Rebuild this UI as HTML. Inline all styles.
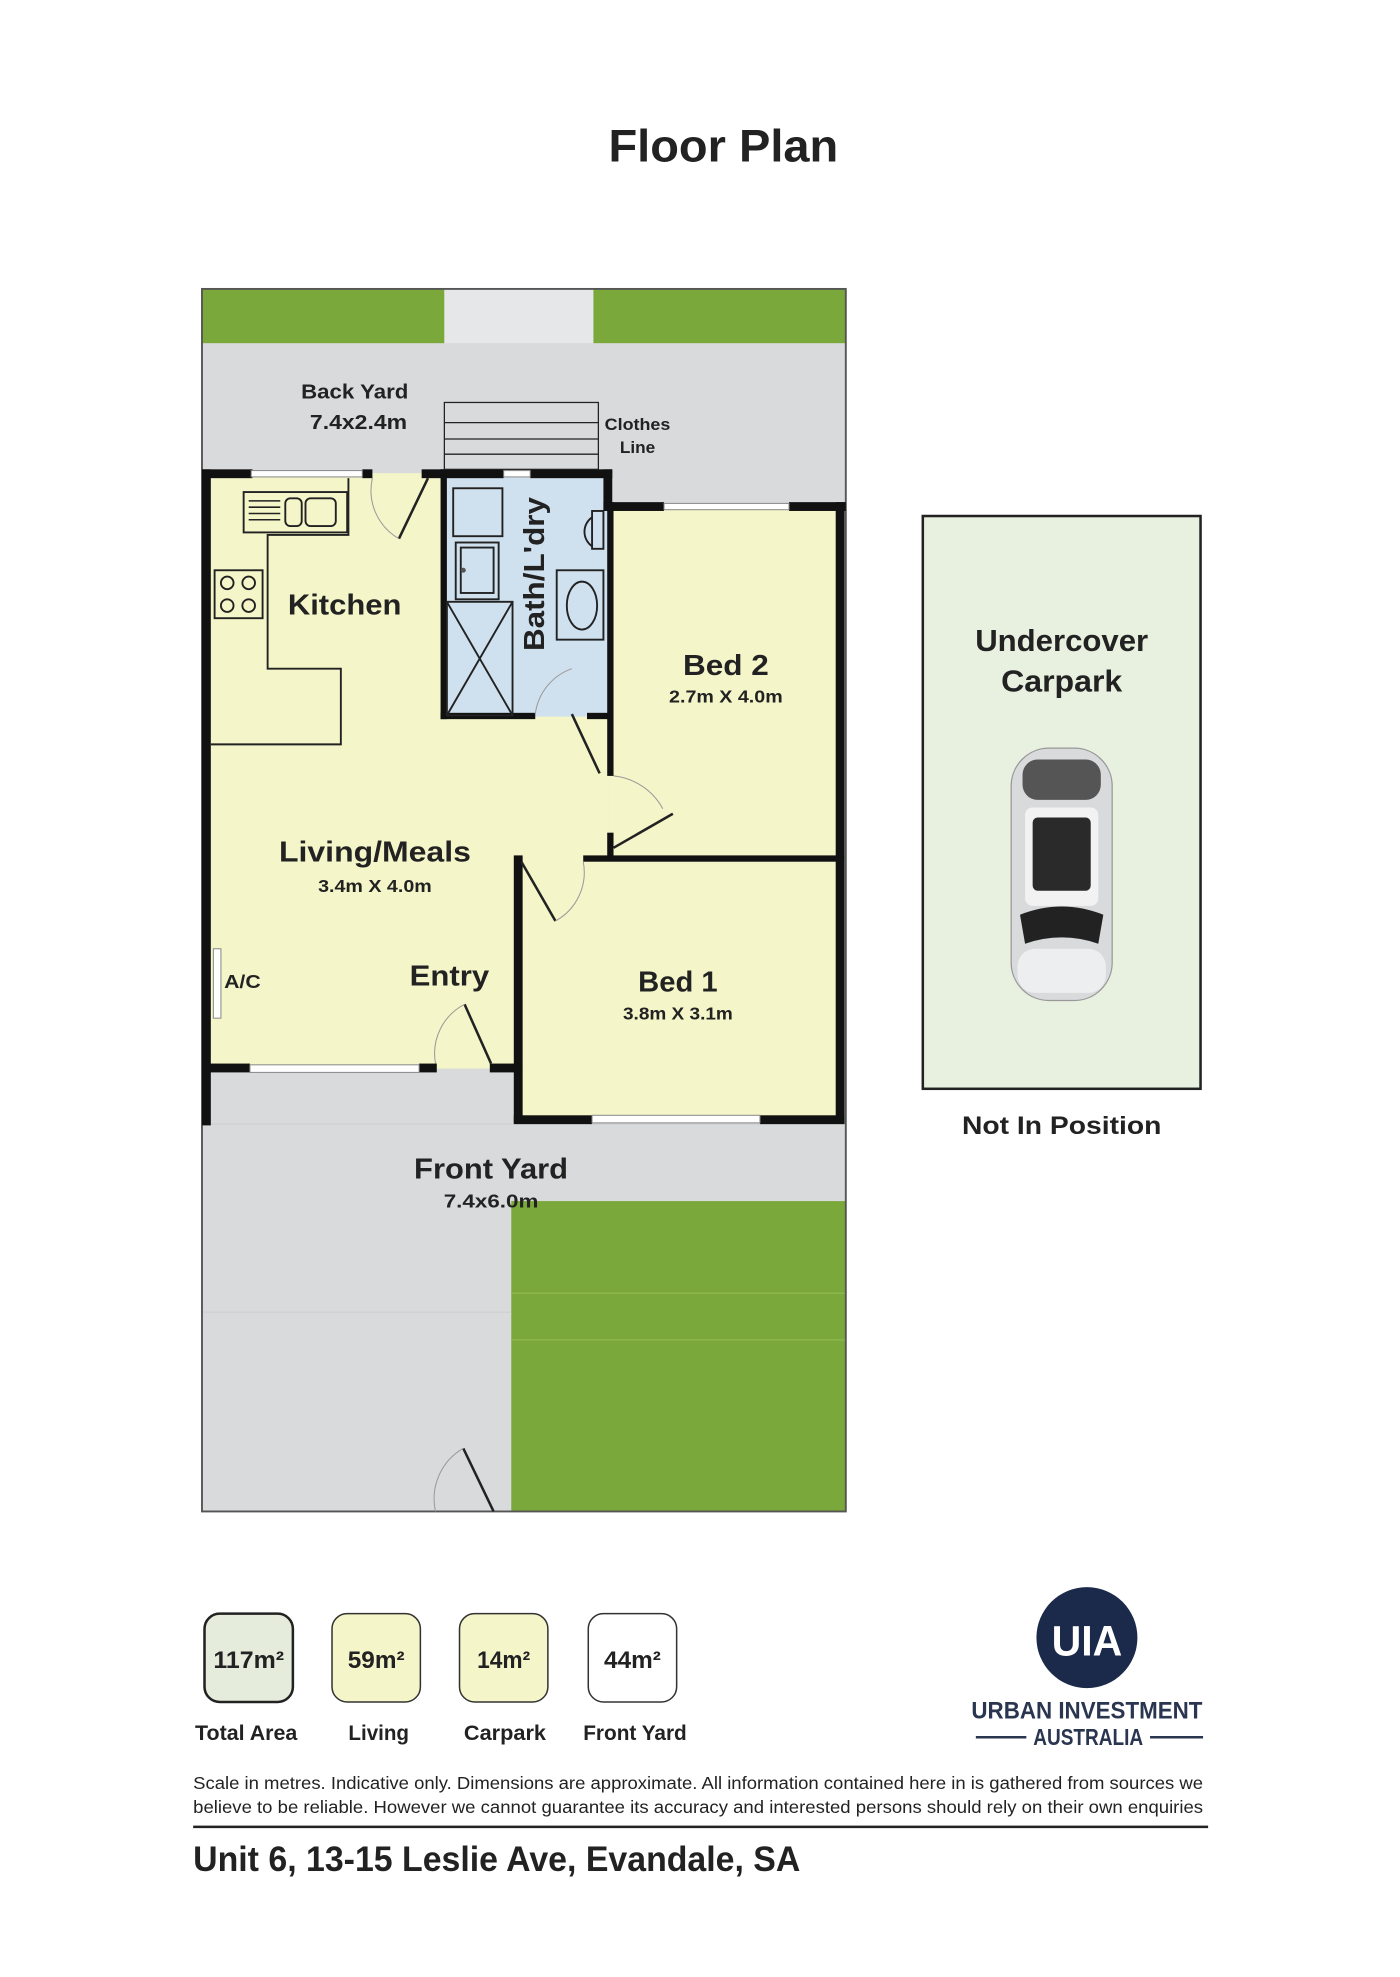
<!DOCTYPE html>
<html><head><meta charset="utf-8"><style>
html,body{margin:0;padding:0;background:#fff}
svg{display:block}
text{font-family:"Liberation Sans",sans-serif;fill:#222;font-weight:bold}
</style></head><body>
<svg width="1400" height="1977" viewBox="0 0 1109 1567" preserveAspectRatio="none" xmlns="http://www.w3.org/2000/svg">
<text x="573" y="128" font-size="36" text-anchor="middle" textLength="182" lengthAdjust="spacingAndGlyphs">Floor Plan</text>

<rect x="160" y="229" width="510" height="969" fill="#d9dadb"/>
<rect x="160" y="229" width="192" height="43" fill="#7aa83a"/>
<rect x="470" y="229" width="200" height="43" fill="#7aa83a"/>
<rect x="352" y="229" width="118" height="43" fill="#e6e7e8"/>
<rect x="405" y="952" width="265" height="246" fill="#7aa83a"/>
<g stroke="#8fb84e" stroke-width="1"><line x1="405" y1="1025" x2="670" y2="1025"/><line x1="405" y1="1062" x2="670" y2="1062"/></g>
<g stroke="#cfd0d1" stroke-width="1"><line x1="160" y1="891" x2="670" y2="891"/><line x1="160" y1="1040" x2="405" y2="1040"/></g>
<rect x="160" y="229" width="510" height="969" fill="none" stroke="#555" stroke-width="1.5"/>

<rect x="163" y="375" width="320" height="472" fill="#f4f5c8"/>
<rect x="483" y="401" width="182" height="282" fill="#f4f5c8"/>
<rect x="410" y="683" width="255" height="204" fill="#f4f5c8"/>
<rect x="352" y="375" width="130" height="193" fill="#cfe0ee"/>

<g fill="#111">
<rect x="160" y="372" width="40" height="7"/>
<rect x="287" y="372" width="8" height="7"/>
<rect x="334" y="372" width="20" height="7"/>
<rect x="349" y="372" width="50" height="7"/>
<rect x="420" y="372" width="65" height="7"/>
<rect x="478" y="372" width="7" height="33"/>
<rect x="478" y="398" width="48" height="7"/>
<rect x="625" y="398" width="45" height="7"/>
<rect x="662" y="398" width="7" height="492"/>
<rect x="160" y="372" width="7" height="520"/>
<rect x="349" y="372" width="5" height="198"/>
<rect x="349" y="565" width="75" height="5"/>
<rect x="465" y="565" width="20" height="5"/>
<rect x="481" y="398" width="5" height="217"/>
<rect x="481" y="660" width="5" height="22"/>
<rect x="462" y="678" width="207" height="5"/>
<rect x="407" y="678" width="7" height="212"/>
<rect x="407" y="884" width="62" height="7"/>
<rect x="602" y="884" width="67" height="7"/>
<rect x="160" y="843" width="38" height="7"/>
<rect x="332" y="843" width="14" height="7"/>
<rect x="388" y="843" width="24" height="7"/>
</g>
<g fill="#fff" stroke="#888" stroke-width="0.8">
<rect x="199" y="373" width="88" height="5"/>
<rect x="399" y="373" width="21" height="5"/>
<rect x="526" y="399" width="99" height="5"/>
<rect x="198" y="844" width="134" height="6"/>
<rect x="469" y="884" width="133" height="6"/>
<rect x="169" y="752" width="6" height="55"/>
</g>

<g stroke="#222" stroke-width="1" fill="none">
<rect x="352" y="319" width="122" height="53"/>
<line x1="352" y1="335" x2="474" y2="335"/><line x1="352" y1="348" x2="474" y2="348"/><line x1="352" y1="360" x2="474" y2="360"/>
</g>
<g stroke="#222" stroke-width="2" fill="none">
<line x1="339" y1="379" x2="316" y2="427"/>
<line x1="486" y1="672" x2="533" y2="645"/>
<line x1="413" y1="683" x2="440" y2="730"/>
<line x1="389" y1="843" x2="368" y2="796"/>
<line x1="453" y1="566" x2="475" y2="613"/>
<line x1="391" y1="1198" x2="367" y2="1148"/>
</g>
<g stroke="#999" stroke-width="0.8" fill="none">
<path d="M295 379 A44 44 0 0 0 316 427"/>
<path d="M486 615 A50 50 0 0 1 525 641"/>
<path d="M462 683 A44 44 0 0 1 440 730"/>
<path d="M345 843 A44 44 0 0 1 368 796"/>
<path d="M424 566 A44 44 0 0 1 453 530"/>
<path d="M345 1198 A46 46 0 0 1 367 1148"/>
</g>
<g stroke="#222" stroke-width="1.5" fill="none">
<polyline points="167,590 270,590 270,530 212,530 212,424 276,424 276,379"/>
<rect x="193" y="390" width="82" height="32"/>
<rect x="226" y="395" width="13" height="22" rx="4"/><rect x="242" y="395" width="24" height="22" rx="4"/>
<rect x="170" y="452" width="38" height="38"/>
<circle cx="180" cy="462" r="5"/><circle cx="197" cy="462" r="5"/><circle cx="180" cy="480" r="5"/><circle cx="197" cy="480" r="5"/>
</g>
<g stroke="#222" stroke-width="1.2">
<line x1="197" y1="397" x2="222" y2="397"/><line x1="197" y1="402" x2="222" y2="402"/><line x1="197" y1="407" x2="222" y2="407"/><line x1="197" y1="412" x2="222" y2="412"/>
</g>
<g stroke="#222" stroke-width="1.5" fill="none">
<rect x="359" y="387" width="39" height="38"/>
<rect x="361" y="430" width="34" height="45"/><rect x="365" y="434" width="26" height="36"/>
<rect x="354" y="477" width="52" height="90"/>
<line x1="354" y1="477" x2="406" y2="567"/><line x1="406" y1="477" x2="354" y2="567"/>
<rect x="469" y="405" width="9" height="30"/>
<path d="M469 410 A14 14 0 0 0 469 433"/>
<rect x="441" y="452" width="37" height="55"/>
<ellipse cx="461" cy="480" rx="12" ry="19"/>
</g>
<circle cx="367" cy="452" r="2" fill="#555"/>

<text x="281" y="316" font-size="16" text-anchor="middle" textLength="85" lengthAdjust="spacingAndGlyphs">Back Yard</text>
<text x="284" y="340" font-size="16" text-anchor="middle" textLength="77" lengthAdjust="spacingAndGlyphs">7.4x2.4m</text>
<text x="505" y="341" font-size="13" text-anchor="middle" textLength="52" lengthAdjust="spacingAndGlyphs">Clothes</text>
<text x="505" y="359" font-size="13" text-anchor="middle" textLength="28" lengthAdjust="spacingAndGlyphs">Line</text>
<text x="273" y="487" font-size="23" text-anchor="middle" textLength="90" lengthAdjust="spacingAndGlyphs">Kitchen</text>
<text x="0" y="0" font-size="23" transform="translate(431,516) rotate(-90)" textLength="122" lengthAdjust="spacingAndGlyphs">Bath/L'dry</text>
<text x="575" y="535" font-size="23" text-anchor="middle" textLength="68" lengthAdjust="spacingAndGlyphs">Bed 2</text>
<text x="575" y="557" font-size="14" text-anchor="middle" textLength="90" lengthAdjust="spacingAndGlyphs">2.7m X 4.0m</text>
<text x="297" y="683" font-size="23" text-anchor="middle" textLength="152" lengthAdjust="spacingAndGlyphs">Living/Meals</text>
<text x="297" y="707" font-size="14" text-anchor="middle" textLength="90" lengthAdjust="spacingAndGlyphs">3.4m X 4.0m</text>
<text x="192" y="783" font-size="15" text-anchor="middle" textLength="29" lengthAdjust="spacingAndGlyphs">A/C</text>
<text x="356" y="781" font-size="23" text-anchor="middle" textLength="63" lengthAdjust="spacingAndGlyphs">Entry</text>
<text x="537" y="786" font-size="23" text-anchor="middle" textLength="63" lengthAdjust="spacingAndGlyphs">Bed 1</text>
<text x="537" y="808" font-size="14" text-anchor="middle" textLength="87" lengthAdjust="spacingAndGlyphs">3.8m X 3.1m</text>
<text x="389" y="934" font-size="23" text-anchor="middle" textLength="122" lengthAdjust="spacingAndGlyphs">Front Yard</text>
<text x="389" y="957" font-size="15" text-anchor="middle" textLength="75" lengthAdjust="spacingAndGlyphs">7.4x6.0m</text>

<rect x="731" y="409" width="220" height="454" fill="#e8f0df" stroke="#222" stroke-width="2"/>
<text x="841" y="516" font-size="24" text-anchor="middle" textLength="137" lengthAdjust="spacingAndGlyphs">Undercover</text>
<text x="841" y="548" font-size="24" text-anchor="middle" textLength="96" lengthAdjust="spacingAndGlyphs">Carpark</text>
<g>
<rect x="801" y="593" width="80" height="200" rx="30" fill="#d8dadc" stroke="#999"/>
<rect x="810" y="602" width="62" height="32" rx="12" fill="#555"/>
<rect x="812" y="640" width="58" height="78" rx="6" fill="#f2f2f2"/>
<rect x="818" y="648" width="46" height="58" rx="4" fill="#2a2a2a"/>
<path d="M808 725 Q841 712 874 725 L870 748 Q841 738 812 748 Z" fill="#222"/>
<rect x="806" y="752" width="70" height="35" rx="14" fill="#eceeef"/>
</g>
<text x="841" y="899" font-size="20" text-anchor="middle" textLength="158" lengthAdjust="spacingAndGlyphs">Not In Position</text>

<rect x="162" y="1279" width="70" height="70" rx="12" fill="#e6ecdb" stroke="#222" stroke-width="2"/>
<rect x="263" y="1279" width="70" height="70" rx="12" fill="#f4f5c8" stroke="#333" stroke-width="1.2"/>
<rect x="364" y="1279" width="70" height="70" rx="12" fill="#f4f5c8" stroke="#333" stroke-width="1.2"/>
<rect x="466" y="1279" width="70" height="70" rx="12" fill="#fff" stroke="#333" stroke-width="1.2"/>
<text x="197" y="1322" font-size="19" text-anchor="middle" textLength="56" lengthAdjust="spacingAndGlyphs">117m²</text>
<text x="298" y="1322" font-size="19" text-anchor="middle" textLength="45" lengthAdjust="spacingAndGlyphs">59m²</text>
<text x="399" y="1322" font-size="19" text-anchor="middle" textLength="42" lengthAdjust="spacingAndGlyphs">14m²</text>
<text x="501" y="1322" font-size="19" text-anchor="middle" textLength="45" lengthAdjust="spacingAndGlyphs">44m²</text>
<text x="195" y="1379" font-size="17" text-anchor="middle" textLength="81" lengthAdjust="spacingAndGlyphs">Total Area</text>
<text x="300" y="1379" font-size="17" text-anchor="middle" textLength="48" lengthAdjust="spacingAndGlyphs">Living</text>
<text x="400" y="1379" font-size="17" text-anchor="middle" textLength="65" lengthAdjust="spacingAndGlyphs">Carpark</text>
<text x="503" y="1379" font-size="17" text-anchor="middle" textLength="82" lengthAdjust="spacingAndGlyphs">Front Yard</text>

<circle cx="861" cy="1298" r="40" fill="#1b2a4a"/>
<text x="861" y="1312" font-size="34" text-anchor="middle" style="fill:#fff" textLength="56" lengthAdjust="spacingAndGlyphs">UIA</text>
<text x="861" y="1362" font-size="19" text-anchor="middle" style="fill:#2a3550" textLength="183" lengthAdjust="spacingAndGlyphs">URBAN INVESTMENT</text>
<text x="862" y="1383" font-size="18" text-anchor="middle" style="fill:#2a3550" textLength="87" lengthAdjust="spacingAndGlyphs">AUSTRALIA</text>
<line x1="773" y1="1377" x2="813" y2="1377" stroke="#2a3550" stroke-width="2"/>
<line x1="911" y1="1377" x2="953" y2="1377" stroke="#2a3550" stroke-width="2"/>

<text x="153" y="1418" font-size="14" style="font-weight:normal" textLength="800" lengthAdjust="spacingAndGlyphs">Scale in metres. Indicative only. Dimensions are approximate. All information contained here in is gathered from sources we</text>
<text x="153" y="1437" font-size="14" style="font-weight:normal" textLength="800" lengthAdjust="spacingAndGlyphs">believe to be reliable. However we cannot guarantee its accuracy and interested persons should rely on their own enquiries</text>
<rect x="153" y="1447" width="804" height="2" fill="#222"/>
<text x="153" y="1483" font-size="28" textLength="481" lengthAdjust="spacingAndGlyphs">Unit 6, 13-15 Leslie Ave, Evandale, SA</text>
</svg>
</body></html>
